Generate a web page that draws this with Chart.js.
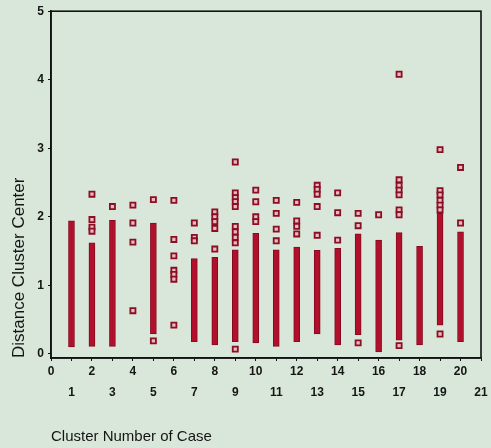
<!DOCTYPE html>
<html>
<head>
<meta charset="utf-8">
<script src="https://cdn.jsdelivr.net/npm/chart.js@4"></script>
<style>
  html, body { margin: 0; padding: 0; background: #d8e7d9; }
  #wrap { width: 491px; height: 448px; }
</style>
</head>
<body>
<div id="wrap"><canvas id="clusterplot"></canvas></div>
<script>
Chart.defaults.font.family = "'Liberation Sans', Arial, sans-serif";
Chart.defaults.color = "#151515";

// cluster number of case (x) and distance ranges
const clusters = [1, 2, 3, 4, 5, 6, 7, 8, 9, 10, 11, 12, 13, 14, 15, 16, 17, 18, 19, 20];
// dense runs of cases (drawn as solid columns), null = no dense run
const columnLow  = [0.10, 0.11, 0.11, null, 0.29, null, 0.18, 0.13, 0.18, 0.16, 0.11, 0.18, 0.29, 0.13, 0.28, 0.03, 0.20, 0.13, 0.42, 0.18];
const columnHigh = [1.94, 1.62, 1.95, null, 1.91, null, 1.39, 1.41, 1.52, 1.76, 1.52, 1.56, 1.51, 1.54, 1.75, 1.66, 1.77, 1.57, 2.05, 1.78];
// single cases standing apart from the runs
const separateCases = [
  [],
  [2.33, 1.96, 1.85, 1.79],
  [2.15],
  [2.17, 1.91, 1.63, 0.63],
  [2.25, 0.19],
  [2.24, 1.67, 1.43, 1.22, 1.16, 1.09, 0.42],
  [1.91, 1.70, 1.65],
  [2.07, 2.00, 1.93, 1.83, 1.53],
  [2.80, 2.35, 2.28, 2.22, 2.15, 1.86, 1.78, 1.70, 1.62, 0.07],
  [2.39, 2.22, 2.00, 1.93],
  [2.24, 2.05, 1.82, 1.65],
  [2.21, 1.94, 1.86, 1.75],
  [2.46, 2.40, 2.33, 2.15, 1.73],
  [2.35, 2.06, 1.66],
  [2.05, 1.87, 0.16],
  [2.03],
  [4.08, 2.54, 2.46, 2.39, 2.32, 2.10, 2.03, 0.12],
  [],
  [2.98, 2.38, 2.32, 2.24, 2.17, 2.10, 0.29],
  [2.72, 1.91]
];
const yTicks = [0, 1, 2, 3, 4, 5];

const columnData = [];
const pointData = [];
clusters.forEach((c, i) => {
  if (columnLow[i] !== null) columnData.push({ x: c, y: [columnLow[i], columnHigh[i]] });
  separateCases[i].forEach(v => pointData.push({ x: c, y: v }));
});

const bgPlugin = {
  id: 'bg',
  beforeDraw(chart) {
    const c = chart.ctx;
    c.save();
    c.fillStyle = '#d8e7d9';
    c.fillRect(0, 0, chart.width, chart.height);
    c.restore();
  },
  afterDraw(chart) {
    const a = chart.chartArea;
    const c = chart.ctx;
    c.save();
    c.strokeStyle = '#111';
    c.lineWidth = 1.6;
    c.strokeRect(a.left, a.top, a.right - a.left, a.bottom - a.top);
    c.restore();
  }
};

new Chart(document.getElementById('clusterplot'), {
  type: 'bar',
  data: {
    datasets: [{
      type: 'bar',
      data: columnData,
      backgroundColor: '#b10f2b',
      borderColor: '#860a20',
      borderWidth: 1,
      borderSkipped: false,
      barThickness: 6
    }, {
      type: 'scatter',
      data: pointData,
      pointStyle: 'rect',
      pointRadius: 3.6,
      pointBorderWidth: 1.8,
      pointBorderColor: '#8a0e24',
      pointBackgroundColor: '#e9b9bd'
    }]
  },
  plugins: [bgPlugin],
  options: {
    responsive: true,
    maintainAspectRatio: false,
    animation: false,
    layout: { padding: { left: 0, top: 11, right: 10, bottom: 0 } },
    plugins: { legend: { display: false }, tooltip: { enabled: false } },
    scales: {
      x: {
        type: 'linear',
        min: 0,
        max: 21,
        offset: false,
        grid: { display: true, drawOnChartArea: false, offset: false, tickLength: 3, color: '#111' },
        border: { display: true, color: '#111', width: 1.6 },
        ticks: {
          stepSize: 1,
          autoSkip: false,
          maxRotation: 0,
          padding: 0,
          font: { size: 12, weight: 'bold', lineHeight: 1.75 },
          callback: v => (v % 2 === 0 ? [String(v)] : ['', String(v)])
        },
        title: {
          display: true,
          text: 'Cluster Number of Case',
          align: 'start',
          font: { size: 15 },
          padding: { top: 0, bottom: 2 }
        },
        afterFit(scale) { scale.height = 90; }
      },
      y: {
        min: -0.06,
        max: 5,
        grid: { display: true, drawOnChartArea: false, tickLength: 3, color: '#111' },
        border: { display: true, color: '#111', width: 1.6 },
        afterBuildTicks(scale) { scale.ticks = yTicks.map(v => ({ value: v })); },
        ticks: { padding: 4, font: { size: 12, weight: 'bold' } },
        title: {
          display: true,
          text: 'Distance Cluster Center',
          align: 'start',
          font: { size: 17 },
          padding: { top: 9, bottom: 0 }
        },
        afterFit(scale) { scale.width = 51; }
      }
    }
  }
});
</script>
</body>
</html>
